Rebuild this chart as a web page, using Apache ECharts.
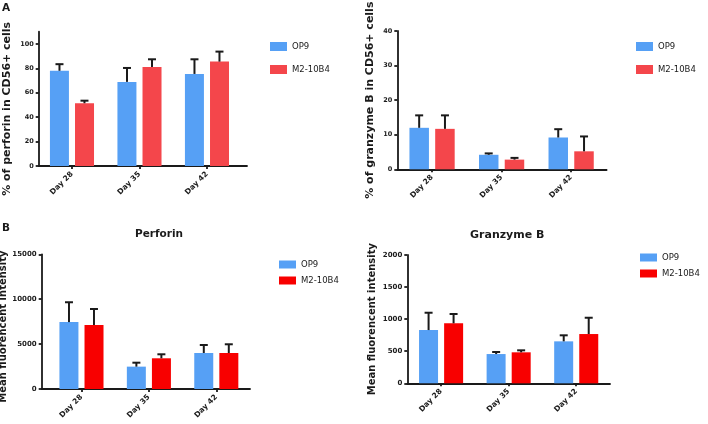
<!DOCTYPE html>
<html>
<head>
<meta charset="utf-8">
<script src="https://cdn.jsdelivr.net/npm/echarts@6/dist/echarts.min.js"></script>
<style>
  html, body { margin: 0; padding: 0; background: #fff; }
  #chart { width: 708px; height: 424px; }
</style>
</head>
<body>
<div id="chart"></div>
<script>
// categories
const days = ['Day 28', 'Day 35', 'Day 42']
const groups = ['OP9', 'M2-10B4']

// A, left: % of perforin in CD56+ cells (mean, mean + error)
const perfPctOP9 = [78, 68.9, 75.4]
const perfPctOP9Err = [83.4, 80.3, 87.4]
const perfPctM2 = [51.4, 81.1, 85.5]
const perfPctM2Err = [53.5, 87.4, 93.7]

// A, right: % of granzyme B in CD56+ cells
const gzmPctOP9 = [12.0, 4.2, 9.2]
const gzmPctOP9Err = [15.6, 4.6, 11.6]
const gzmPctM2 = [11.7, 2.8, 5.2]
const gzmPctM2Err = [15.6, 3.3, 9.5]

// B, left: perforin MFI
const perfMfiOP9 = [7450, 2490, 4010]
const perfMfiOP9Err = [9660, 2930, 4900]
const perfMfiM2 = [7130, 3420, 4010]
const perfMfiM2Err = [8910, 3865, 4980]

// B, right: granzyme B MFI
const gzmMfiOP9 = [830, 456, 654]
const gzmMfiOP9Err = [1100, 488, 748]
const gzmMfiM2 = [935, 483, 768]
const gzmMfiM2Err = [1080, 514, 1022]

// y tick labels
const ticksA1 = [0, 20, 40, 60, 80, 100]

const FONT = 'DejaVu Sans'
const BLUE = '#56a0f5'
const RED_A = '#f4464b'
const RED_B = '#f80000'
const INK = '#1a1a1a'
const AXW = 1.8
const dayIdx = [0, 1, 2]

const chart = echarts.init(document.getElementById('chart'))

const toPairs = (vals) => vals.map((v, i) => [i, v])
const toErr = (vals, tops) => vals.map((v, i) => [i, v, tops[i]])

// error bar (upward only) drawn on top of a bar
const errRender = (shift) => (params, api) => {
  const p0 = api.coord([api.value(0), api.value(1)])
  const p1 = api.coord([api.value(0), api.value(2)])
  const cx = p0[0] + shift
  return {
    type: 'group',
    children: [
      { type: 'line', shape: { x1: cx, y1: p0[1], x2: cx, y2: p1[1] }, style: { stroke: INK, lineWidth: 2 } },
      { type: 'line', shape: { x1: cx - 4, y1: p1[1], x2: cx + 4, y2: p1[1] }, style: { stroke: INK, lineWidth: 2 } }
    ]
  }
}

const makeX = (idx, min, max) => ({
  type: 'value', gridIndex: idx, min: min, max: max,
  splitLine: { show: false },
  axisLine: { show: true, onZero: false, lineStyle: { color: INK, width: AXW } },
  axisTick: { show: true, customValues: dayIdx, length: 3, lineStyle: { color: INK, width: AXW } },
  axisLabel: {
    customValues: dayIdx, rotate: 45, margin: 7,
    formatter: (v) => days[v],
    fontFamily: FONT, fontWeight: 'bold', fontSize: 7.5, color: INK
  }
})

const yLabel = (size) => ({
  margin: 5, fontFamily: FONT, fontWeight: 'bold', fontSize: size, color: INK,
  formatter: (v) => String(v)
})

const makeY = (idx, max, extra) => Object.assign({
  type: 'value', gridIndex: idx, min: 0, max: max,
  splitLine: { show: false },
  axisLine: { show: true, onZero: false, lineStyle: { color: INK, width: AXW } },
  axisTick: { show: true, length: 3, lineStyle: { color: INK, width: AXW } },
  nameLocation: 'middle',
  nameTextStyle: { fontFamily: FONT, fontWeight: 'bold', fontSize: 11, color: INK },
  axisLabel: yLabel(6.5)
}, extra)

const makeBars = (idx, name, vals, color, bw) => ({
  type: 'bar', name: name, xAxisIndex: idx, yAxisIndex: idx,
  data: toPairs(vals), barWidth: bw, barGap: '32%',
  itemStyle: { color: color }, silent: true
})

const makeErr = (idx, vals, tops, shift) => ({
  type: 'custom', xAxisIndex: idx, yAxisIndex: idx,
  data: toErr(vals, tops), renderItem: errRender(shift),
  encode: { x: 0, y: [1, 2] }, silent: true, z: 3
})

const makeLegend = (left, top, h, gap, red) => ({
  orient: 'vertical', left: left, top: top, padding: 0,
  icon: 'rect', itemWidth: 17, itemHeight: h, itemGap: gap,
  selectedMode: false,
  textStyle: { fontFamily: FONT, fontSize: 8.5, color: INK, lineHeight: h },
  data: [
    { name: groups[0], itemStyle: { color: BLUE } },
    { name: groups[1], itemStyle: { color: red } }
  ]
})

const titleStyle = { fontFamily: FONT, fontWeight: 'bold', color: INK }

chart.setOption({
  animation: false,
  title: [
    { text: 'A', left: 2, top: 3, padding: 0, textStyle: Object.assign({ fontSize: 10.5 }, titleStyle) },
    { text: 'B', left: 2, top: 223, padding: 0, textStyle: Object.assign({ fontSize: 10.5 }, titleStyle) },
    { text: 'Perforin', left: 135, top: 229, padding: 0, textStyle: Object.assign({ fontSize: 10.5 }, titleStyle) },
    { text: 'Granzyme B', left: 470, top: 230, padding: 0, textStyle: Object.assign({ fontSize: 11 }, titleStyle) }
  ],
  legend: [
    makeLegend(270, 42, 9, 14, RED_A),
    makeLegend(636, 42, 9, 14, RED_A),
    makeLegend(279, 260, 8, 7, RED_B),
    makeLegend(640, 253, 8, 7, RED_B)
  ],
  grid: [
    { left: 38.7, top: 31.7, width: 208.3, height: 134.3, outerBoundsMode: 'none' },
    { left: 397.3, top: 31, width: 209.3, height: 138.3, outerBoundsMode: 'none' },
    { left: 41.7, top: 254.3, width: 208.3, height: 134.7, outerBoundsMode: 'none' },
    { left: 407.3, top: 255, width: 202.7, height: 128.3, outerBoundsMode: 'none' }
  ],
  xAxis: [
    makeX(0, -0.493, 2.593),
    makeX(1, -0.5, 2.51),
    makeX(2, -0.59, 2.5),
    makeX(3, -0.5, 2.5)
  ],
  yAxis: [
    makeY(0, 110, {
      name: '% of perforin in CD56+ cells', nameGap: 26,
      axisTick: { show: true, customValues: ticksA1, length: 3, lineStyle: { color: INK, width: AXW } },
      axisLabel: Object.assign(yLabel(6.5), { customValues: ticksA1 }),
      nameTextStyle: { fontFamily: FONT, fontWeight: 'bold', fontSize: 11, color: INK, padding: [0, 20, 0, 0] }
    }),
    makeY(1, 40, { interval: 10, name: '% of granzyme B in CD56+ cells', nameGap: 22 }),
    makeY(2, 15000, {
      interval: 5000, name: 'Mean fluorencent intensity', nameGap: 30,
      axisLabel: yLabel(7),
      nameTextStyle: { fontFamily: FONT, fontWeight: 'bold', fontSize: 10, color: INK, padding: [0, 10, 0, 0] }
    }),
    makeY(3, 2000, {
      interval: 500, name: 'Mean fluorencent intensity', nameGap: 30,
      axisLabel: yLabel(7),
      nameTextStyle: { fontFamily: FONT, fontWeight: 'bold', fontSize: 10, color: INK }
    })
  ],
  series: [
    makeBars(0, groups[0], perfPctOP9, BLUE, 19),
    makeBars(0, groups[1], perfPctM2, RED_A, 19),
    makeErr(0, perfPctOP9, perfPctOP9Err, -12.5),
    makeErr(0, perfPctM2, perfPctM2Err, 12.5),

    makeBars(1, groups[0], gzmPctOP9, BLUE, 19.5),
    makeBars(1, groups[1], gzmPctM2, RED_A, 19.5),
    makeErr(1, gzmPctOP9, gzmPctOP9Err, -12.9),
    makeErr(1, gzmPctM2, gzmPctM2Err, 12.9),

    makeBars(2, groups[0], perfMfiOP9, BLUE, 19),
    makeBars(2, groups[1], perfMfiM2, RED_B, 19),
    makeErr(2, perfMfiOP9, perfMfiOP9Err, -12.5),
    makeErr(2, perfMfiM2, perfMfiM2Err, 12.5),

    makeBars(3, groups[0], gzmMfiOP9, BLUE, 19),
    makeBars(3, groups[1], gzmMfiM2, RED_B, 19),
    makeErr(3, gzmMfiOP9, gzmMfiOP9Err, -12.5),
    makeErr(3, gzmMfiM2, gzmMfiM2Err, 12.5)
  ]
})

window.addEventListener('resize', () => chart.resize())
</script>
</body>
</html>
